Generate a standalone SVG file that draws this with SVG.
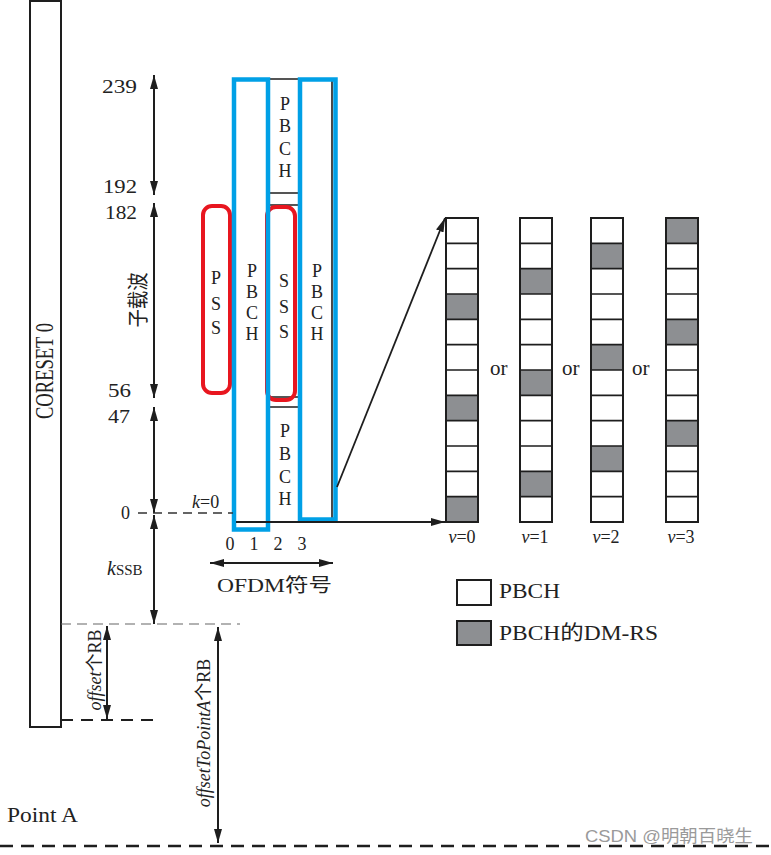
<svg xmlns="http://www.w3.org/2000/svg" width="771" height="855" viewBox="0 0 771 855">
<style>
.t{font-family:"Liberation Serif","Noto Sans CJK SC",serif;fill:#222;font-size:18px}
.ln{stroke:#1e1e1e;stroke-width:1.6;fill:none}
.blue{fill:none;stroke:#00a0e6;stroke-width:4.5}
.red{fill:none;stroke:#e8161f;stroke-width:4}
.dim{stroke:#1e1e1e;stroke-width:2;fill:none;marker-start:url(#ah);marker-end:url(#ah)}
.one{stroke:#1e1e1e;stroke-width:1.8;fill:none;marker-end:url(#ah)}
.bg{fill:#fff}
.dm{fill:#8d8f92}
.it{font-style:italic}
.dash1{stroke:#333;stroke-width:1.4;stroke-dasharray:9 6;fill:none}
.dash2{stroke:#666;stroke-width:1.1;stroke-dasharray:10 6;fill:none}
.dash3{stroke:#1e1e1e;stroke-width:2;stroke-dasharray:12 8;fill:none}
.dash4{stroke:#1e1e1e;stroke-width:2.6;stroke-dasharray:13 8;fill:none}
</style>
<defs>
<marker id="ah" viewBox="0 0 14 8" refX="14" refY="4" markerWidth="14" markerHeight="8" markerUnits="userSpaceOnUse" orient="auto-start-reverse"><path d="M0,0 L14,4 L0,8 z" fill="#1e1e1e"/></marker>
<g id="rows" class="ln">
<path d="M0,243.33H32M0,268.67H32M0,294H32M0,319.33H32M0,344.67H32M0,370H32M0,395.33H32M0,420.67H32M0,446H32M0,471.33H32M0,496.67H32"/>
<rect x="0" y="218" width="32" height="304" stroke-width="2"/>
</g>
</defs>

<g id="coreset0">
<rect x="30" y="1" width="31" height="726" fill="#fff" stroke="#1e1e1e" stroke-width="2"/>
<text class="t" transform="translate(53,371) rotate(-90)" text-anchor="middle" style="font-size:25px" textLength="96" lengthAdjust="spacingAndGlyphs">CORESET 0</text>
</g>

<g id="axis-labels">
<text class="t" x="137" y="93" text-anchor="end" textLength="35" lengthAdjust="spacingAndGlyphs">239</text>
<text class="t" x="137" y="193" text-anchor="end" textLength="34" lengthAdjust="spacingAndGlyphs">192</text>
<text class="t" x="137" y="219" text-anchor="end" textLength="32" lengthAdjust="spacingAndGlyphs">182</text>
<text class="t" x="131" y="397" text-anchor="end" textLength="23" lengthAdjust="spacingAndGlyphs">56</text>
<text class="t" x="130" y="423" text-anchor="end" textLength="22" lengthAdjust="spacingAndGlyphs">47</text>
<text class="t" x="130" y="519" text-anchor="end">0</text>
<text class="t" transform="translate(145,300) rotate(-90)" text-anchor="middle" style="font-size:21px" textLength="55" lengthAdjust="spacingAndGlyphs">子载波</text>
<text class="t" x="192" y="508"><tspan class="it">k</tspan>=0</text>
<text class="t" x="107" y="575"><tspan class="it" style="font-size:20px">k</tspan><tspan style="font-size:15px">SSB</tspan></text>
</g>

<g id="ssb-grid" class="ln">
<path d="M268,79H332V522M268,193H300M268,205H300M268,397H300M268,407H300M300,79V522"/>
</g>

<g id="pss">
<rect class="red" x="203" y="206" width="27" height="187" rx="9"/>
<text class="t" text-anchor="middle"><tspan x="216" y="284">P</tspan><tspan x="216" y="310">S</tspan><tspan x="216" y="334">S</tspan></text>
</g>

<g id="sss">
<rect class="red" x="267" y="207" width="28" height="193" rx="9"/>
<text class="t" text-anchor="middle"><tspan x="284" y="287">S</tspan><tspan x="284" y="313">S</tspan><tspan x="284" y="338">S</tspan></text>
</g>

<g id="pbch-sym2-top">
<text class="t" text-anchor="middle"><tspan x="285" y="110">P</tspan><tspan x="285" y="132">B</tspan><tspan x="285" y="155">C</tspan><tspan x="285" y="177">H</tspan></text>
</g>

<g id="pbch-sym2-bottom">
<text class="t" text-anchor="middle"><tspan x="285" y="437">P</tspan><tspan x="285" y="460">B</tspan><tspan x="285" y="483">C</tspan><tspan x="285" y="505">H</tspan></text>
</g>

<g id="pbch-sym1">
<rect class="blue" x="234" y="79.5" width="34" height="450"/>
<text class="t" text-anchor="middle"><tspan x="252" y="277">P</tspan><tspan x="252" y="298">B</tspan><tspan x="252" y="319">C</tspan><tspan x="252" y="340">H</tspan></text>
</g>

<g id="pbch-sym3">
<rect class="blue" x="300" y="79.5" width="35.5" height="440"/>
<text class="t" text-anchor="middle"><tspan x="317" y="277">P</tspan><tspan x="317" y="298">B</tspan><tspan x="317" y="319">C</tspan><tspan x="317" y="340">H</tspan></text>
</g>

<g id="symbol-labels">
<text class="t" text-anchor="middle"><tspan x="230" y="550">0</tspan><tspan x="254" y="550">1</tspan><tspan x="278" y="550">2</tspan><tspan x="302" y="550">3</tspan></text>
<text class="t" x="217" y="592" style="font-size:19px" textLength="115" lengthAdjust="spacingAndGlyphs">OFDM符号</text>
</g>

<g id="grid-v0">
<rect class="bg" x="446" y="218" width="32" height="304"/>
<rect class="dm" x="446" y="294" width="32" height="25.33"/>
<rect class="dm" x="446" y="395.33" width="32" height="25.33"/>
<rect class="dm" x="446" y="496.67" width="32" height="25.33"/>
<use href="#rows" x="446"/>
<text class="t" x="462" y="543" text-anchor="middle"><tspan class="it">v</tspan>=0</text>
</g>
<g id="grid-v1">
<rect class="bg" x="520" y="218" width="32" height="304"/>
<rect class="dm" x="520" y="268.67" width="32" height="25.33"/>
<rect class="dm" x="520" y="370" width="32" height="25.33"/>
<rect class="dm" x="520" y="471.33" width="32" height="25.33"/>
<use href="#rows" x="520"/>
<text class="t" x="535" y="543" text-anchor="middle"><tspan class="it">v</tspan>=1</text>
</g>
<g id="grid-v2">
<rect class="bg" x="591" y="218" width="32" height="304"/>
<rect class="dm" x="591" y="243.33" width="32" height="25.33"/>
<rect class="dm" x="591" y="344.67" width="32" height="25.33"/>
<rect class="dm" x="591" y="446" width="32" height="25.33"/>
<use href="#rows" x="591"/>
<text class="t" x="606" y="543" text-anchor="middle"><tspan class="it">v</tspan>=2</text>
</g>
<g id="grid-v3">
<rect class="bg" x="666" y="218" width="32" height="304"/>
<rect class="dm" x="666" y="218" width="32" height="25.33"/>
<rect class="dm" x="666" y="319.33" width="32" height="25.33"/>
<rect class="dm" x="666" y="420.67" width="32" height="25.33"/>
<use href="#rows" x="666"/>
<text class="t" x="681" y="543" text-anchor="middle"><tspan class="it">v</tspan>=3</text>
</g>
<g id="or-labels">
<text class="t" x="490" y="375" style="font-size:21px">or</text>
<text class="t" x="562" y="375" style="font-size:21px">or</text>
<text class="t" x="632" y="375" style="font-size:21px">or</text>
</g>

<g id="legend">
<rect x="457" y="580" width="34" height="25" fill="#fff" stroke="#1e1e1e" stroke-width="2"/>
<text class="t" x="499" y="598" style="font-size:20px" textLength="61" lengthAdjust="spacingAndGlyphs">PBCH</text>
<rect x="457" y="621" width="34" height="24" fill="#8d8f92" stroke="#1e1e1e" stroke-width="2"/>
<text class="t" x="499" y="640" style="font-size:20px" textLength="159" lengthAdjust="spacingAndGlyphs">PBCH的DM-RS</text>
</g>

<g id="offsets">
<text class="t" transform="translate(101,670) rotate(-90)" text-anchor="middle"><tspan class="it">offset</tspan>个RB</text>
<text class="t" transform="translate(210,733) rotate(-90)" text-anchor="middle"><tspan class="it">offsetToPointA</tspan>个RB</text>
<text class="t" x="7" y="822" style="font-size:20px" textLength="71" lengthAdjust="spacingAndGlyphs">Point A</text>
</g>

<g id="connectors">
<path class="dim" d="M154,75V195"/>
<path class="dim" d="M154,203V398"/>
<path class="dim" d="M154,407V513"/>
<path class="dim" d="M154,515V624"/>
<path class="dim" d="M210,563H333"/>
<path class="dim" d="M107,626V719"/>
<path class="dim" d="M218,627V843"/>
<path class="dash1" d="M138,513H233"/>
<path class="dash2" d="M61,624H240"/>
<path class="dash3" d="M61,720H160"/>
<path class="dash4" d="M0,846H771"/>
<path class="one" d="M236,522H445"/>
<path class="one" d="M337,487L445,218"/>
</g>

<text x="585" y="842" font-family="'Liberation Sans','Noto Sans CJK SC',sans-serif" font-size="17" fill="#9a9a9a" textLength="168" lengthAdjust="spacingAndGlyphs">CSDN @明朝百晓生</text>
</svg>
